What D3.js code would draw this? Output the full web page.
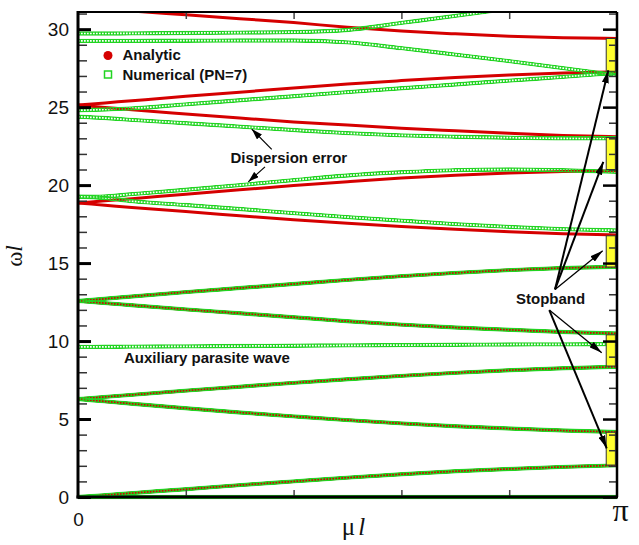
<!DOCTYPE html>
<html>
<head>
<meta charset="utf-8">
<script src="https://cdn.jsdelivr.net/npm/d3@7"></script>
<style>
  body { margin: 0; background: #fff; }
  svg { display: block; }
</style>
</head>
<body>
<div id="chart"></div>
<script>
// wavenumber samples, as fractions of pi
const muFrac = [0, 0.05, 0.1, 0.2, 0.3, 0.4, 0.5, 0.6, 0.7, 0.8, 0.9, 1.0];

// analytic branches (omega*l)
const anaBand1  = [0, 0.12, 0.25, 0.5, 0.76, 1.0, 1.24, 1.46, 1.65, 1.8, 1.93, 2.03];
const anaBand2  = [6.28, 6.13, 5.98, 5.69, 5.42, 5.17, 4.93, 4.72, 4.54, 4.39, 4.26, 4.17];
const anaBand3  = [6.28, 6.42, 6.55, 6.82, 7.07, 7.32, 7.55, 7.77, 7.96, 8.13, 8.26, 8.35];
const anaBand4  = [12.57, 12.43, 12.3, 12.03, 11.78, 11.53, 11.27, 11.05, 10.87, 10.72, 10.58, 10.49];
const anaBand5  = [12.57, 12.71, 12.86, 13.14, 13.4, 13.66, 13.92, 14.16, 14.37, 14.55, 14.68, 14.76];
const anaBand6  = [18.85, 18.71, 18.57, 18.3, 18.04, 17.78, 17.55, 17.35, 17.17, 17.01, 16.88, 16.8];
const anaBand7  = [18.85, 18.99, 19.13, 19.42, 19.7, 19.97, 20.22, 20.45, 20.63, 20.77, 20.87, 20.92];
const anaBand8  = [25.13, 24.98, 24.83, 24.56, 24.3, 24.05, 23.85, 23.65, 23.48, 23.32, 23.18, 23.1];
const anaBand9  = [25.13, 25.27, 25.41, 25.69, 25.96, 26.22, 26.48, 26.7, 26.9, 27.06, 27.19, 27.27];
const anaBand10 = [31.42, 31.3, 31.17, 30.92, 30.67, 30.42, 30.12, 29.88, 29.7, 29.55, 29.45, 29.4];

// numerical branches (PN=7)
const numZero     = [0, 0, 0, 0, 0, 0, 0, 0, 0, 0, 0, 0];
const numParasite = [9.62, 9.63, 9.64, 9.66, 9.68, 9.7, 9.72, 9.74, 9.76, 9.78, 9.79, 9.8];
const numBand6  = [19.25, 19.17, 18.97, 18.72, 18.47, 18.2, 17.95, 17.72, 17.5, 17.32, 17.18, 17.1];
const numBand7  = [19.25, 19.28, 19.42, 19.7, 20.0, 20.32, 20.62, 20.82, 20.96, 21.0, 20.95, 20.85];
const numBand8  = [24.38, 24.3, 24.18, 23.97, 23.75, 23.53, 23.33, 23.19, 23.1, 23.04, 23.0, 23.0];
const numBand9  = [24.8, 24.85, 24.92, 25.18, 25.44, 25.7, 25.96, 26.21, 26.45, 26.7, 26.94, 27.2];
const numBand10 = [29.25, 29.25, 29.25, 29.26, 29.27, 29.27, 29.15, 28.78, 28.37, 27.95, 27.5, 27.05];
const numBand11 = [29.72, 29.72, 29.73, 29.75, 29.78, 29.81, 29.95, 30.4, 30.85, 31.32, null, null];

// stopbands at mu*l = pi  [low, high]
const stopbands = [[2.05, 4.15], [8.4, 10.4], [14.75, 16.75], [21.0, 23.05], [27.3, 29.4]];

// tick labels
const yMajorTicks = [0, 5, 10, 15, 20, 25, 30];
const xLabels = ["0", "\u03C0"];

const analytic = [anaBand1, anaBand2, anaBand3, anaBand4, anaBand5,
                  anaBand6, anaBand7, anaBand8, anaBand9, anaBand10];
const numerical = [numZero, anaBand1, anaBand2, anaBand3, numParasite, anaBand4, anaBand5,
                   numBand6, numBand7, numBand8, numBand9, numBand10, numBand11];

const RED = "#d50000", GREEN = "#22d422";

// set the dimensions and margins of the graph
const margin = {top: 12, right: 22, bottom: 48, left: 78},
    width = 639 - margin.left - margin.right,
    height = 545 - margin.top - margin.bottom;

const svg = d3.select("#chart").append("svg")
    .attr("width", width + margin.left + margin.right)
    .attr("height", height + margin.top + margin.bottom);
const defs = svg.append("defs");

const canvas = svg.append("g")
    .attr("transform", "translate(" + margin.left + "," + margin.top + ")");

const x = d3.scaleLinear().domain([0, Math.PI]).range([0, width]);
const y = d3.scaleLinear().domain([0, 31.1]).range([height, 0]);

defs.append("clipPath").attr("id", "plotclip")
  .append("rect").attr("x", -2).attr("y", 0).attr("width", width + 2).attr("height", height + 3);

const line = d3.line()
    .defined(d => d[1] != null)
    .x(d => x(d[0] * Math.PI))
    .y(d => y(d[1]))
    .curve(d3.curveMonotoneX);
const pts = vals => muFrac.map((m, i) => [m, vals[i]]);

const plot = canvas.append("g").attr("clip-path", "url(#plotclip)");

// analytic: dense red markers -> solid thick line
plot.selectAll(".ana").data(analytic).join("path")
    .attr("class", "ana")
    .attr("fill", "none")
    .attr("stroke", RED)
    .attr("stroke-width", 3)
    .attr("d", d => line(pts(d)));

// numerical: chained open squares -> green band with periodic holes (mask)
numerical.forEach((vals, i) => {
  const d = line(pts(vals));
  const m = defs.append("mask").attr("id", "nm" + i)
      .attr("maskUnits", "userSpaceOnUse")
      .attr("x", -10).attr("y", -10).attr("width", width + 20).attr("height", height + 20);
  m.append("path").attr("d", d).attr("fill", "none").attr("stroke", "#fff").attr("stroke-width", 4.4);
  m.append("path").attr("d", d).attr("fill", "none").attr("stroke", "#000")
      .attr("stroke-width", 1.7).attr("stroke-dasharray", "1.7 1.3");
  plot.append("path")
      .attr("d", d)
      .attr("fill", "none")
      .attr("stroke", GREEN)
      .attr("stroke-width", 4.4)
      .attr("mask", "url(#nm" + i + ")");
});

// stopband boxes
canvas.selectAll(".stop").data(stopbands).join("rect")
    .attr("class", "stop")
    .attr("x", x(0.98 * Math.PI))
    .attr("width", x(0.997 * Math.PI) - x(0.98 * Math.PI))
    .attr("y", d => y(d[1]))
    .attr("height", d => y(d[0]) - y(d[1]))
    .attr("fill", "#ffff2e")
    .attr("stroke", "#333")
    .attr("stroke-width", 1);

// axes: inward ticks on all four sides
const yMinor = d3.range(1, 32).filter(v => v % 5 !== 0);
const xMinor = [0.2, 0.4, 0.6, 0.8].map(f => f * Math.PI);

const tickStyle = (g, w, c) => {
  g.select(".domain").remove();
  g.selectAll(".tick line").attr("stroke", c).attr("stroke-width", w);
};

canvas.append("g").call(d3.axisRight(y).tickValues(yMinor).tickSize(9).tickFormat(""))
    .call(g => tickStyle(g, 1.5, "#333"));
canvas.append("g").call(d3.axisRight(y).tickValues(yMajorTicks).tickSize(13).tickFormat(""))
    .call(g => tickStyle(g, 3, "#000"));
canvas.append("g").attr("transform", "translate(" + width + ",0)")
    .call(d3.axisLeft(y).tickValues(yMinor).tickSize(8).tickFormat(""))
    .call(g => tickStyle(g, 1.5, "#333"));
canvas.append("g").attr("transform", "translate(" + width + ",0)")
    .call(d3.axisLeft(y).tickValues(yMajorTicks).tickSize(14).tickFormat(""))
    .call(g => tickStyle(g, 2.5, "#000"));
canvas.append("g").call(d3.axisBottom(x).tickValues(xMinor).tickSize(7).tickFormat(""))
    .call(g => tickStyle(g, 1.5, "#444"));
canvas.append("g").attr("transform", "translate(0," + height + ")")
    .call(d3.axisTop(x).tickValues(xMinor).tickSize(7).tickFormat(""))
    .call(g => tickStyle(g, 1.5, "#444"));

// y tick labels
canvas.append("g")
    .call(d3.axisLeft(y).tickValues(yMajorTicks).tickSize(0).tickPadding(9))
    .call(g => {
      g.select(".domain").remove();
      g.selectAll("text").attr("font-family", "Liberation Sans, Arial, sans-serif")
        .attr("font-size", 19).attr("fill", "#111");
    });

// x tick labels
canvas.append("g").attr("transform", "translate(0," + height + ")")
    .call(d3.axisBottom(x).tickValues([0, Math.PI]).tickSize(0).tickPadding(0)
      .tickFormat((d, i) => xLabels[i]))
    .call(g => {
      g.select(".domain").remove();
      g.selectAll("text").attr("dy", null)
        .attr("fill", "#111")
        .attr("font-family", (d, i) => i ? "Liberation Serif, serif" : "Liberation Sans, Arial, sans-serif")
        .attr("font-size", (d, i) => i ? 32 : 19)
        .attr("x", (d, i) => i ? 3 : 0)
        .attr("y", (d, i) => i ? 24 : 29);
    });

// frame
canvas.append("line").attr("x1", 0).attr("x2", width).attr("y1", 0).attr("y2", 0)
    .attr("stroke", "#000").attr("stroke-width", 2);
canvas.append("line").attr("x1", width).attr("x2", width).attr("y1", 0).attr("y2", height)
    .attr("stroke", "#000").attr("stroke-width", 2.5);
canvas.append("line").attr("x1", 0).attr("x2", 0).attr("y1", -1).attr("y2", height + 1.5)
    .attr("stroke", "#000").attr("stroke-width", 3);
canvas.append("line").attr("x1", -1.5).attr("x2", width + 1).attr("y1", height).attr("y2", height)
    .attr("stroke", "#000").attr("stroke-width", 3);

// axis titles
svg.append("text")
    .attr("transform", "translate(22,256) rotate(-90)")
    .attr("text-anchor", "middle")
    .attr("font-family", "Liberation Serif, serif")
    .attr("font-size", 23).attr("fill", "#111")
    .html('\u03C9<tspan font-style="italic">l</tspan>');
svg.append("text")
    .attr("x", margin.left + width / 2 + 6).attr("y", 535)
    .attr("text-anchor", "middle")
    .attr("font-family", "Liberation Serif, serif")
    .attr("font-size", 25).attr("fill", "#111")
    .html('\u03BC<tspan font-style="italic" dx="3">l</tspan>');

// legend
const legend = canvas.append("g").attr("transform", "translate(30,43.5)");
legend.append("circle").attr("cx", 0).attr("cy", 0).attr("r", 4.5).attr("fill", RED);
legend.append("rect").attr("x", -3.5).attr("y", 15.5).attr("width", 7).attr("height", 7)
    .attr("fill", "none").attr("stroke", GREEN).attr("stroke-width", 1.5);
legend.selectAll("text").data(["Analytic", "Numerical (PN=7)"]).join("text")
    .attr("x", 14.5).attr("y", (d, i) => 4.5 + i * 20)
    .attr("font-family", "Liberation Sans, Arial, sans-serif")
    .attr("font-weight", "bold").attr("font-size", 15).attr("fill", "#111")
    .text(d => d);

// annotations (positions in data units: [mu/pi, omega*l])
const notes = [
  {text: "Dispersion error", at: [0.2829, 21.44]},
  {text: "Stopband", at: [0.8126, 12.35]},
  {text: "Auxiliary parasite wave", at: [0.0853, 8.61]}
];
const arrows = [
  {from: [0.3594, 22.29], to: [0.3223, 23.59], w: 1.2, head: "hs"},
  {from: [0.3469, 21.17], to: [0.316, 20.21], w: 1.2, head: "hs"},
  {from: [0.885, 13.31], to: [0.9735, 15.79], w: 1.3, head: "hl"},
  {from: [0.885, 13.31], to: [0.9746, 21.49], w: 2, head: "hl"},
  {from: [0.885, 13.31], to: [0.9839, 27.37], w: 2, head: "hl"},
  {from: [0.8744, 11.99], to: [0.9716, 9.25], w: 1.3, head: "hl"},
  {from: [0.8744, 11.99], to: [0.9809, 3.12], w: 2, head: "hl"}
];

const addHead = (id, len, wid) => defs.append("marker").attr("id", id)
    .attr("viewBox", "0 0 " + len + " " + wid)
    .attr("refX", len).attr("refY", wid / 2)
    .attr("markerWidth", len).attr("markerHeight", wid)
    .attr("markerUnits", "userSpaceOnUse").attr("orient", "auto")
  .append("path").attr("d", "M0,0L" + len + "," + (wid / 2) + "L0," + wid + "Z").attr("fill", "#000");
addHead("hs", 11, 7);
addHead("hl", 13, 7);

canvas.selectAll(".arrow").data(arrows).join("line")
    .attr("class", "arrow")
    .attr("x1", d => x(d.from[0] * Math.PI)).attr("y1", d => y(d.from[1]))
    .attr("x2", d => x(d.to[0] * Math.PI)).attr("y2", d => y(d.to[1]))
    .attr("stroke", "#000").attr("stroke-width", d => d.w)
    .attr("marker-end", d => "url(#" + d.head + ")");

canvas.selectAll(".note").data(notes).join("text")
    .attr("class", "note")
    .attr("x", d => x(d.at[0] * Math.PI)).attr("y", d => y(d.at[1]))
    .attr("font-family", "Liberation Sans, Arial, sans-serif")
    .attr("font-weight", "bold").attr("font-size", 15).attr("fill", "#111")
    .text(d => d.text);
</script>
</body>
</html>
